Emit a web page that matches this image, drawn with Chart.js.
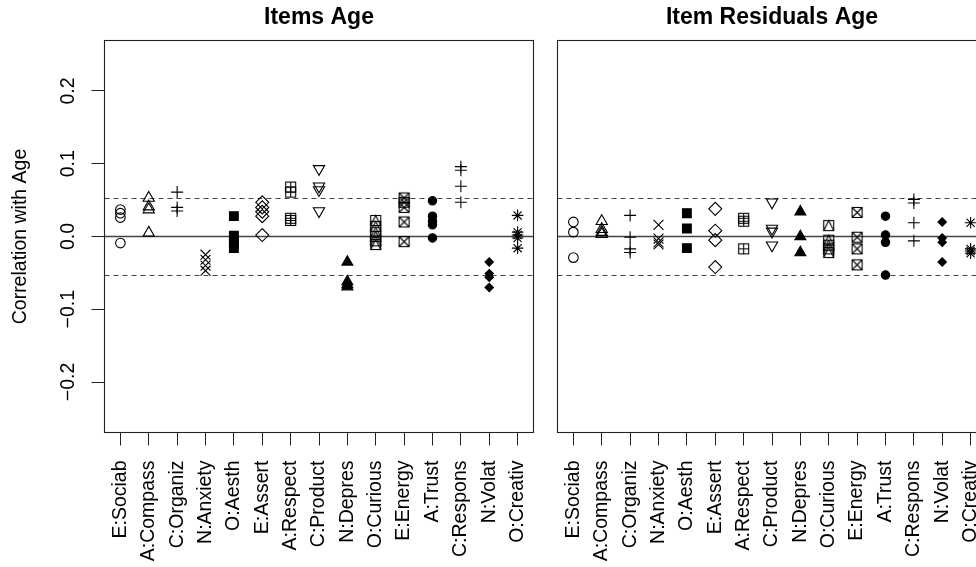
<!DOCTYPE html>
<html>
<head>
<meta charset="utf-8">
<title>Items Age</title>
<script src="https://cdn.jsdelivr.net/npm/chart.js@4.4.1/dist/chart.umd.min.js"></script>
<style>
  html, body { margin: 0; padding: 0; background: #fff; overflow: hidden; }
  #wrap { position: relative; width: 976px; height: 567px; overflow: hidden; }
  canvas { position: absolute; top: 0; }
  #left { left: 0; }
  #right { left: 545px; }
</style>
</head>
<body>
<div id="wrap">
  <canvas id="left" width="545" height="567"></canvas>
  <canvas id="right" width="545" height="567"></canvas>
</div>
<script>
const facets = ["E:Sociab", "A:Compass", "C:Organiz", "N:Anxiety", "O:Aesth",
  "E:Assert", "A:Respect", "C:Product", "N:Depres", "O:Curious",
  "E:Energy", "A:Trust", "C:Respons", "N:Volat", "O:Creativ"];

// correlation of each item with age, grouped by facet
const itemsAge = [
  [0.037, 0.032, 0.026, -0.009],
  [0.053, 0.041, 0.037, 0.005],
  [0.061, 0.040, 0.035],
  [-0.025, -0.032, -0.040, -0.047],
  [0.028, 0.001, -0.004, -0.010, -0.016],
  [0.047, 0.040, 0.034, 0.028, 0.002],
  [0.068, 0.061, 0.025, 0.022],
  [0.093, 0.069, 0.064, 0.035],
  [-0.035, -0.062, -0.066, -0.069],
  [0.022, 0.014, 0.006, 0.000, -0.006, -0.011],
  [0.053, 0.047, 0.040, 0.020, -0.007],
  [0.049, 0.028, 0.021, 0.016, -0.002],
  [0.096, 0.091, 0.069, 0.047],
  [-0.035, -0.051, -0.056, -0.070],
  [0.029, 0.006, 0.002, -0.002, -0.016]
];

// same items after removing the facet score
const residualsAge = [
  [0.020, 0.006, -0.029],
  [0.021, 0.010, 0.006, 0.003],
  [0.029, -0.001, -0.017, -0.022],
  [0.016, -0.003, -0.008, -0.011],
  [0.032, 0.011, -0.016],
  [0.038, 0.008, -0.005, -0.042],
  [0.025, 0.021, -0.017],
  [0.047, 0.011, 0.007, -0.012],
  [0.034, 0.000, -0.022],
  [0.015, -0.005, -0.012, -0.017, -0.022],
  [0.033, -0.001, -0.017, -0.039],
  [0.028, 0.002, -0.008, -0.053],
  [0.051, 0.046, 0.019, -0.006],
  [0.020, -0.002, -0.008, -0.035],
  [0.019, -0.017, -0.020, -0.023]
];

const yTicks = [-0.2, -0.1, 0, 0.1, 0.2];
const critR = 0.0535;

const FONT = '"Liberation Sans", Arial, Helvetica, sans-serif';

// small boxed glyphs that Chart.js has no built-in style for
function boxGlyph(inner) {
  const c = document.createElement('canvas');
  c.width = 13; c.height = 13;
  const g = c.getContext('2d');
  g.strokeStyle = '#000';
  g.lineWidth = 1.1;
  g.strokeRect(1.5, 1.5, 10, 10);
  g.beginPath();
  inner(g);
  g.stroke();
  return c;
}
const boxPlus = boxGlyph(g => { g.moveTo(6.5, 1.5); g.lineTo(6.5, 11.5); g.moveTo(1.5, 6.5); g.lineTo(11.5, 6.5); });
const boxTimes = boxGlyph(g => { g.moveTo(1.5, 1.5); g.lineTo(11.5, 11.5); g.moveTo(11.5, 1.5); g.lineTo(1.5, 11.5); });
const boxTri = boxGlyph(g => { g.moveTo(6.5, 1.5); g.lineTo(11.5, 11.5); g.lineTo(1.5, 11.5); g.closePath(); });

const symbols = [
  { style: 'circle', r: 4.8 },
  { style: 'triangle', r: 6.5 },
  { style: 'cross', r: 6 },
  { style: 'crossRot', r: 7 },
  { style: 'rect', r: 6.2, fill: true },
  { style: 'rectRot', r: 6.5 },
  { style: boxPlus },
  { style: 'triangle', r: 6.5, rotation: 180 },
  { style: 'triangle', r: 6.3, fill: true },
  { style: boxTri },
  { style: boxTimes },
  { style: 'circle', r: 4.2, fill: true },
  { style: 'cross', r: 6 },
  { style: 'rectRot', r: 4.2, fill: true },
  { style: 'star', r: 5.8 }
];

const frame = {
  id: 'frame',
  beforeDatasetsDraw(chart) {
    const { ctx, chartArea: a, scales: { y } } = chart;
    ctx.save();
    ctx.strokeStyle = '#444';
    ctx.lineWidth = 1.3;
    let py = y.getPixelForValue(0);
    ctx.beginPath(); ctx.moveTo(a.left, py); ctx.lineTo(a.right, py); ctx.stroke();
    ctx.lineWidth = 1;
    ctx.setLineDash([5, 4]);
    [critR, -critR].forEach(v => {
      py = Math.round(y.getPixelForValue(v)) + 0.5;
      ctx.beginPath(); ctx.moveTo(a.left, py); ctx.lineTo(a.right, py); ctx.stroke();
    });
    ctx.restore();
  },
  afterDatasetsDraw(chart) {
    const { ctx, chartArea: a } = chart;
    ctx.save();
    ctx.strokeStyle = '#222';
    ctx.lineWidth = 1.1;
    ctx.strokeRect(a.left, a.top, a.right - a.left, a.bottom - a.top);
    ctx.restore();
  }
};

function makeChart(id, title, values, showY) {
  const datasets = facets.map((f, i) => ({
    label: f,
    data: values[i].map(v => ({ x: i, y: v })),
    pointStyle: symbols[i].style,
    rotation: symbols[i].rotation || 0,
    pointRadius: symbols[i].r || 5,
    borderColor: '#000',
    backgroundColor: symbols[i].fill ? '#000' : 'rgba(0,0,0,0)',
    borderWidth: 1.1
  }));

  return new Chart(document.getElementById(id), {
    type: 'scatter',
    data: { datasets },
    options: {
      responsive: false,
      animation: false,
      events: [],
      layout: {
        autoPadding: false,
        padding: showY ? { left: 0, right: 11.5 } : { left: 12.5, right: 103.5 }
      },
      plugins: {
        legend: { display: false },
        tooltip: { enabled: false },
        title: {
          display: true, text: title, fullSize: false, color: '#000',
          font: { family: FONT, size: 23, weight: 'bold', lineHeight: 1.2 },
          padding: { top: 4, bottom: 8.9 }
        }
      },
      scales: {
        x: {
          type: 'linear', min: -0.56, max: 14.56,
          afterBuildTicks: s => { s.ticks = facets.map((_, i) => ({ value: i })); },
          afterFit: s => { s.height = 134.5; s.paddingLeft = 0; s.paddingRight = 0; },
          ticks: {
            callback: v => facets[v], minRotation: 90, maxRotation: 90, autoSkip: false,
            padding: 15, color: '#000', font: { family: FONT, size: 19.5 }
          },
          grid: { drawOnChartArea: false, tickLength: 13, color: '#222', lineWidth: 1 },
          border: { color: '#222' }
        },
        y: {
          min: -0.2694, max: 0.2694, display: showY,
          afterBuildTicks: s => { s.ticks = yTicks.map(v => ({ value: v })); },
          afterFit: s => { s.width = showY ? 104.5 : 0; s.paddingTop = 0; s.paddingBottom = 0; },
          ticks: {
            callback: v => v.toFixed(1).replace('-', '\u2212'),
            minRotation: 90, maxRotation: 90, crossAlign: 'center', padding: 4,
            color: '#000', font: { family: FONT, size: 19.5 }
          },
          grid: { drawOnChartArea: false, tickLength: 13, color: '#222', lineWidth: 1 },
          border: { color: '#222' },
          title: {
            display: true, text: 'Correlation with Age', color: '#000',
            font: { family: FONT, size: 19.5 }, padding: { top: 9, bottom: 0 }
          }
        }
      }
    },
    plugins: [frame]
  });
}

makeChart('left', 'Items Age', itemsAge, true);
makeChart('right', 'Item Residuals Age', residualsAge, false);
</script>
</body>
</html>
